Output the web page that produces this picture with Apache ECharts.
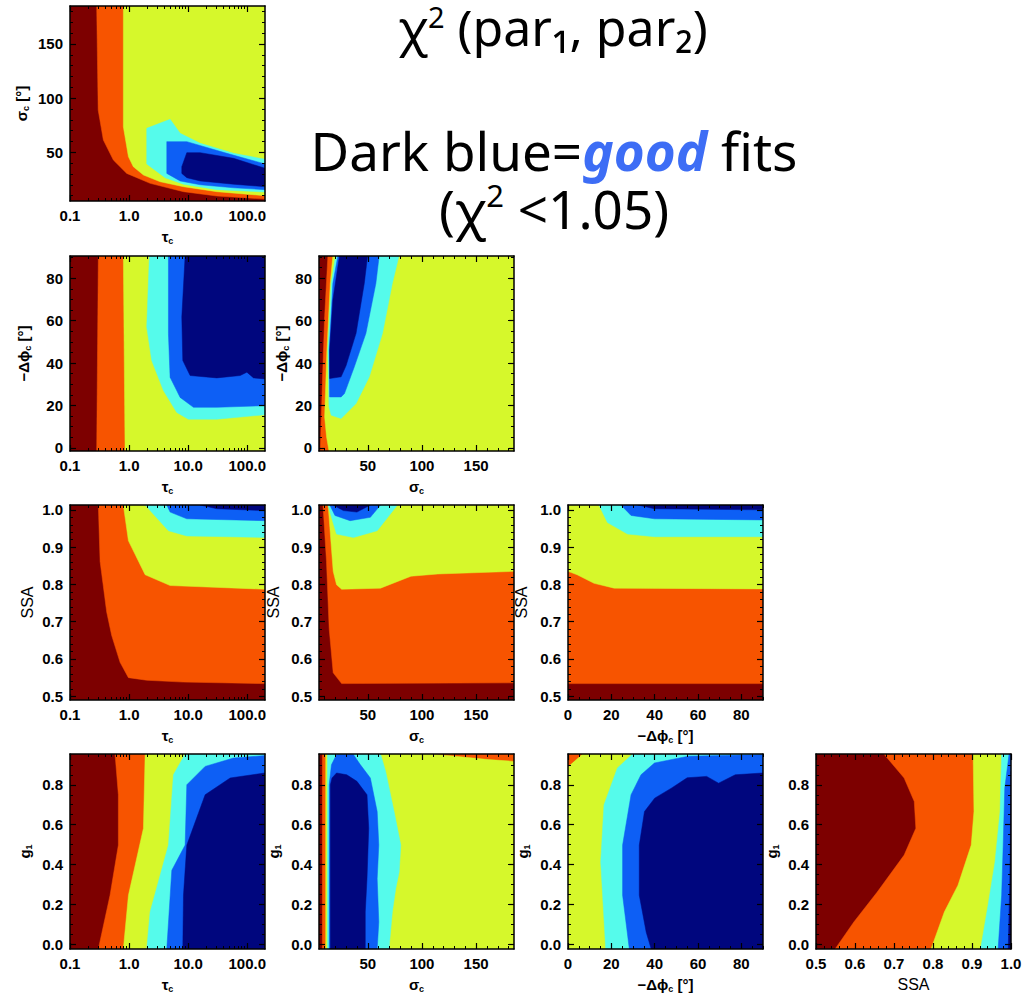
<!DOCTYPE html>
<html><head><meta charset="utf-8">
<script src="https://cdn.jsdelivr.net/npm/echarts@6/dist/echarts.min.js"></script>
<style>html,body{margin:0;padding:0;background:#fff}#c{width:1027px;height:1002px}</style>
</head><body><div id="c"></div>
<script>
// ---------- chi^2 colour levels (worst -> best) ----------
const levelColors = ['#7d0000', '#f75400', '#d6f82b', '#55fbeb', '#0d5ff5', '#00067e'];

// ---------- axis ranges & ticks ----------
const tauRange = [0.1, 200];
const tauTicks = [0.1, 1, 10, 100];
const tauMinor = [0.2,0.3,0.4,0.5,0.6,0.7,0.8,0.9,2,3,4,5,6,7,8,9,20,30,40,50,60,70,80,90];
const sigRange = [5, 185];
const sigTicks = [50, 100, 150];
const sigMinor = [10,20,30,40,60,70,80,90,110,120,130,140,160,170,180];
const dphiRangeX = [0, 90];
const dphiRangeY = [-1.5, 90.5];
const dphiTicks = [0, 20, 40, 60, 80];
const dphiMinor = [5,10,15,25,30,35,45,50,55,65,70,75,85,90];
const ssaRangeX = [0.5, 1.0];
const ssaRangeY = [0.49, 1.013];
const ssaTicks = [0.5, 0.6, 0.7, 0.8, 0.9, 1.0];
const ssaMinor = [0.52,0.54,0.56,0.58,0.62,0.64,0.66,0.68,0.72,0.74,0.76,0.78,0.82,0.84,0.86,0.88,0.92,0.94,0.96,0.98];
const g1Range = [-0.022, 0.954];
const g1Ticks = [0, 0.2, 0.4, 0.6, 0.8];
const g1Minor = [0.05,0.1,0.15,0.25,0.3,0.35,0.45,0.5,0.55,0.65,0.7,0.75,0.85,0.9];

// ---------- contour regions (data coordinates) ----------
// tau_c vs sigma_c
const A_orange = [[0.283,185],[0.30,89],[0.367,61.3],[0.542,42.8],[0.913,30.5],[2.27,21.3],[8.34,13.6],[30.6,9.6],[200,6.8],[200,185]];
const A_yellow = [[0.80,185],[0.80,73.6],[0.975,45.9],[1.18,36.7],[1.75,29],[3.35,22.8],[8.34,18.2],[30.6,13.6],[200,9.9],[200,185]];
const A_cyan   = [[1.99,72.1],[4.95,80.4],[7.32,67.5],[16,58.2],[58.7,49],[200,43.5],[200,13.3],[30.6,15.5],[8.34,20.5],[4.08,26.5],[1.99,39.2]];
const A_blue   = [[4.35,59.8],[9.49,59.8],[45.2,49],[200,39.2],[200,15.5],[58.7,17.2],[16,20],[7.32,23.5],[4.35,30.5]];
const A_navy   = [[9.49,49.6],[16,49.6],[58.7,44.4],[200,35.2],[200,18.2],[58.7,20.5],[16,23.5],[9.49,26.5],[7.81,30.5],[7.81,36.7]];
// tau_c vs -dphi_c
const B_orange = [[0.302,90.5],[0.283,-1.5],[200,-1.5],[200,90.5]];
const B_yellow = [[0.80,90.5],[0.855,-1.5],[200,-1.5],[200,90.5]];
const B_cyan   = [[2.21,90.5],[1.99,57],[2.42,41.2],[3.82,27],[6.42,16.7],[10.1,13.5],[30.6,13.5],[200,15.6],[200,90.5]];
const B_blue   = [[4.64,90.5],[4.64,53.8],[4.95,33.3],[7.32,23.8],[12.3,19.1],[30.6,19.1],[200,19.9],[200,90.5]];
const B_navy   = [[8.89,90.5],[7.81,61.7],[8.12,41.2],[10.8,34.1],[30.6,33],[76,34.1],[98.7,35.7],[128,33],[200,32.5],[200,90.5]];
// sigma_c vs -dphi_c
const C_orange = [[13.2,90.5],[10.2,61.8],[8.1,30.3],[6.2,-1.5],[185,-1.5],[185,90.5]];
const C_yellow = [[17.8,90.5],[15.4,77.6],[12.3,46.1],[10.2,14.6],[12,5.1],[14.2,-1.5],[185,-1.5],[185,90.5]];
const C_cyan   = [[20.3,90.5],[78.8,90.5],[72.7,77.6],[63.6,54],[51.4,33.5],[39.2,20.9],[25.4,13.8],[16.3,15.4],[14.2,19.3],[13.2,46.1],[16.3,77.6]];
const C_blue   = [[22.4,90.5],[60.5,90.5],[57.5,77.6],[48.3,54],[37.6,38.2],[28.5,25.6],[25.4,24],[14.8,24],[14.4,46.1],[17.8,77.6]];
const C_navy   = [[23.9,90.5],[49.8,90.5],[46.8,77.6],[39.2,54],[30,38.8],[25.4,33.5],[14.8,32.7],[14.8,46.1],[17.8,69.7],[22.4,85.5]];
// tau_c vs SSA
const D_orange = [[0.302,1.013],[0.323,0.862],[0.418,0.726],[0.508,0.663],[0.704,0.591],[0.975,0.550],[1.99,0.543],[8.34,0.538],[200,0.534],[200,1.013]];
const D_yellow = [[0.80,1.013],[0.975,0.917],[1.87,0.826],[4.95,0.797],[200,0.787],[200,1.013]];
const D_cyan   = [[1.87,1.013],[4.64,0.944],[9.49,0.930],[200,0.926],[200,1.013]];
const D_blue   = [[4.35,1.013],[4.95,0.994],[9.49,0.976],[200,0.971],[200,1.013]];
const D_navy   = [[16,1.013],[30.6,1.003],[200,0.998],[200,1.013]];
// sigma_c vs SSA
const E_orange = [[8.7,1.013],[11.9,0.862],[14.4,0.681],[18.1,0.563],[25.9,0.534],[185,0.536],[185,1.013]];
const E_yellow = [[13.4,1.013],[15,0.953],[18.1,0.835],[21.2,0.799],[25.9,0.787],[61.8,0.790],[89.9,0.822],[114.8,0.828],[185,0.835],[185,1.013]];
const E_cyan   = [[13.4,1.013],[16.5,0.980],[21.2,0.935],[36.8,0.926],[58.7,0.944],[77.4,1.013]];
const E_blue   = [[15,1.013],[19.7,0.985],[33.7,0.971],[52.4,0.980],[61.8,1.013]];
const E_navy   = [[18.1,1.013],[27.5,0.998],[40,0.994],[52.4,1.013]];
// -dphi_c vs SSA
const F_orange = [[0,0.534],[90,0.534],[90,1.013],[0,1.013]];
const F_yellow = [[0,0.835],[4.2,0.826],[12,0.803],[21.3,0.790],[90,0.788],[90,1.013],[0,1.013]];
const F_cyan   = [[14.3,1.013],[18.2,0.966],[27.5,0.935],[39.9,0.928],[90,0.928],[90,1.013]];
const F_blue   = [[24.4,1.013],[29.1,0.985],[39.9,0.976],[90,0.973],[90,1.013]];
const F_navy   = [[32.2,1.013],[39.9,1.003],[90,1.0],[90,1.013]];
// tau_c vs g1
const G_orange = [[0.579,0.954],[0.659,0.750],[0.659,0.498],[0.476,0.247],[0.302,-0.022],[200,-0.022],[200,0.954]];
const G_yellow = [[1.87,0.954],[1.75,0.582],[0.975,0.247],[0.80,-0.022],[200,-0.022],[200,0.954]];
const G_cyan   = [[8.89,0.954],[5.64,0.850],[4.64,0.498],[2.27,0.163],[1.99,-0.022],[200,-0.022],[200,0.954]];
const G_blue   = [[200,0.946],[58.7,0.934],[19.4,0.892],[9.49,0.80],[8.89,0.498],[5.29,0.372],[4.35,-0.022],[200,-0.022]];
const G_navy   = [[200,0.859],[51.5,0.834],[19.4,0.750],[9.49,0.498],[8.34,0.247],[8.12,-0.022],[200,-0.022]];
// sigma_c vs g1
const H_orange = [[8.1,-0.022],[8.1,0.954],[185,0.954],[185,-0.022]];
const H_yellow = [[11.2,-0.022],[11.2,0.954],[108.6,0.954],[130.4,0.943],[161.6,0.926],[185,0.917],[185,-0.022]];
const H_cyan   = [[12.8,-0.022],[12.8,0.954],[61.8,0.954],[66.5,0.867],[74.3,0.666],[80.5,0.498],[79,0.364],[75.8,0.280],[72.7,0.163],[69.6,-0.022]];
const H_blue   = [[14.4,-0.022],[14.4,0.80],[16.5,0.90],[21.2,0.951],[36.8,0.951],[43.1,0.901],[52.4,0.834],[58.7,0.666],[60.2,0.498],[58.7,0.330],[60.2,0.113],[58.7,-0.022]];
const H_navy   = [[15.5,-0.022],[15.5,0.80],[17,0.834],[21.2,0.859],[30.6,0.850],[40,0.817],[49.3,0.750],[50.9,0.582],[49.3,0.330],[47.7,0.163],[47.7,-0.022]];
// -dphi_c vs g1
const I_orange = [[0,0.954],[6.5,0.954],[2.6,0.917],[0,0.892]];
const I_cyan   = [[29.8,0.954],[22.8,0.884],[16.6,0.699],[15.1,0.414],[17.4,-0.022],[90,-0.022],[90,0.954]];
const I_blue   = [[90,0.951],[55.5,0.943],[39.9,0.909],[33.7,0.850],[29.1,0.750],[25.2,0.498],[25.2,0.247],[28.3,-0.022],[90,-0.022]];
const I_navy   = [[90,0.859],[77.2,0.850],[69.5,0.808],[64,0.842],[55,0.835],[47.7,0.783],[40,0.733],[35.3,0.666],[32.9,0.498],[32.9,0.247],[36.1,0.062],[38.4,-0.022],[90,-0.022]];
// SSA vs g1
const J_orange = [[0.674,0.954],[0.726,0.834],[0.752,0.716],[0.756,0.582],[0.726,0.448],[0.657,0.263],[0.597,0.113],[0.549,-0.022],[1,-0.022],[1,0.954]];
const J_yellow = [[0.903,0.954],[0.905,0.666],[0.898,0.498],[0.864,0.297],[0.829,0.163],[0.795,-0.022],[1,-0.022],[1,0.954]];
const J_cyan   = [[0.976,0.954],[0.972,0.666],[0.959,0.414],[0.941,0.196],[0.922,-0.022],[1,-0.022],[1,0.954]];
const J_blue   = [[0.995,0.954],[0.984,0.783],[0.980,0.498],[0.976,0.247],[0.967,-0.022],[1,-0.022],[1,0.954]];
const J_navy   = [[1,0.867],[0.997,0.330],[0.993,-0.022],[1,-0.022]];

// ---------- axis definitions ----------
const fmt1 = v => Number(v).toFixed(1);
const fmt0 = v => String(Math.round(v));
const AX = {
  tau:   {type:'log',   range:tauRange,   ticks:tauTicks,  minor:tauMinor,  fmt:fmt1, name:'{g|τ}{s|c}'},
  sig:   {type:'value', range:sigRange,   ticks:sigTicks,  minor:sigMinor,  fmt:fmt0, name:'{g|σ}{s|c}'},
  sigY:  {type:'value', range:sigRange,   ticks:sigTicks,  minor:sigMinor,  fmt:fmt0, name:'{g|σ}{s|c}{g| [°]}'},
  dphiX: {type:'value', range:dphiRangeX, ticks:dphiTicks, minor:dphiMinor, fmt:fmt0, name:'{g|−Δϕ}{s|c}{g| [°]}'},
  dphiY: {type:'value', range:dphiRangeY, ticks:dphiTicks, minor:dphiMinor, fmt:fmt0, name:'{g|−Δϕ}{s|c}{g| [°]}'},
  ssaX:  {type:'value', range:ssaRangeX,  ticks:ssaTicks,  minor:ssaMinor,  fmt:fmt1, name:'{n|SSA}'},
  ssaY:  {type:'value', range:ssaRangeY,  ticks:ssaTicks,  minor:ssaMinor,  fmt:fmt1, name:'{n|SSA}'},
  g1Y:   {type:'value', range:g1Range,    ticks:g1Ticks,   minor:g1Minor,   fmt:fmt1, name:'{g|g}{s|1}'}
};

const panels = [
  {col:0,row:0,x:'tau',  y:'sigY', base:0, yGap:40, layers:[[1,A_orange],[2,A_yellow],[3,A_cyan],[4,A_blue],[5,A_navy]]},
  {col:0,row:1,x:'tau',  y:'dphiY',base:0, yGap:38, layers:[[1,B_orange],[2,B_yellow],[3,B_cyan],[4,B_blue],[5,B_navy]]},
  {col:1,row:1,x:'sig',  y:'dphiY',base:0, yGap:29, layers:[[1,C_orange],[2,C_yellow],[3,C_cyan],[4,C_blue],[5,C_navy]]},
  {col:0,row:2,x:'tau',  y:'ssaY', base:0, yGap:35, layers:[[1,D_orange],[2,D_yellow],[3,D_cyan],[4,D_blue],[5,D_navy]]},
  {col:1,row:2,x:'sig',  y:'ssaY', base:0, yGap:38, layers:[[1,E_orange],[2,E_yellow],[3,E_cyan],[4,E_blue],[5,E_navy]]},
  {col:2,row:2,x:'dphiX',y:'ssaY', base:0, yGap:39, layers:[[1,F_orange],[2,F_yellow],[3,F_cyan],[4,F_blue],[5,F_navy]]},
  {col:0,row:3,x:'tau',  y:'g1Y',  base:0, yGap:37, layers:[[1,G_orange],[2,G_yellow],[3,G_cyan],[4,G_blue],[5,G_navy]]},
  {col:1,row:3,x:'sig',  y:'g1Y',  base:0, yGap:37, layers:[[1,H_orange],[2,H_yellow],[3,H_cyan],[4,H_blue],[5,H_navy]]},
  {col:2,row:3,x:'dphiX',y:'g1Y',  base:2, yGap:37, layers:[[1,I_orange],[3,I_cyan],[4,I_blue],[5,I_navy]]},
  {col:3,row:3,x:'ssaX', y:'g1Y',  base:0, yGap:36, layers:[[1,J_orange],[2,J_yellow],[3,J_cyan],[4,J_blue],[5,J_navy]]}
];

const colLeft = [70, 319, 568, 816];
const rowTop = [6, 256, 505, 754];
const W = 195, H = 195;
const FONT = "'Liberation Sans', 'DejaVu Sans', Arial, sans-serif";
const nameRich = {
  g: {fontFamily: FONT, fontSize: 15, fontWeight: 'bold', color: '#000'},
  s: {fontFamily: FONT, fontSize: 9, fontWeight: 'bold', color: '#000', padding: [8, 0, 0, 0]},
  n: {fontFamily: FONT, fontSize: 16, fontWeight: 'normal', color: '#000'}
};
const lineBlack = {color: '#000', width: 1.5};

const grids = [], xAxes = [], yAxes = [], series = [];

function makeAxes(ax, gi, isX, gap) {
  const common = {gridIndex: gi, type: ax.type, min: ax.range[0], max: ax.range[1], z: 10,
    splitLine: {show: false}, minorSplitLine: {show: false}, silent: true, axisPointer: {show: false}};
  if (ax.type === 'log') common.logBase = 10;
  const sideA = isX ? 'bottom' : 'left', sideB = isX ? 'top' : 'right';
  const main = Object.assign({}, common, {
    position: sideA,
    axisLine: {show: true, onZero: false, lineStyle: lineBlack},
    axisTick: {show: true, inside: true, length: 6, customValues: ax.ticks, lineStyle: {color: '#000', width: 1.2}},
    axisLabel: {show: true, customValues: ax.ticks, formatter: ax.fmt, margin: 7, color: '#000',
      fontFamily: FONT, fontSize: 15, fontWeight: 'bold'},
    name: ax.name, nameLocation: 'middle', nameGap: gap,
    nameTextStyle: {rich: nameRich, fontFamily: FONT, fontSize: 15, fontWeight: 'bold', color: '#000'}
  });
  if (!isX) main.nameRotate = 90;
  const opp = Object.assign({}, common, {
    position: sideB,
    axisLine: {show: true, onZero: false, lineStyle: lineBlack},
    axisTick: {show: true, inside: true, length: 6, customValues: ax.ticks, lineStyle: {color: '#000', width: 1.2}},
    axisLabel: {show: false}
  });
  const minA = Object.assign({}, common, {
    position: sideA,
    axisLine: {show: false, onZero: false},
    axisTick: {show: true, inside: true, length: 3, customValues: ax.minor, lineStyle: {color: '#000', width: 1}},
    axisLabel: {show: false}
  });
  const minB = Object.assign({}, minA, {position: sideB});
  return [main, opp, minA, minB];
}

function polygonItem(color) {
  return function (params, api) {
    if (params.dataIndexInside !== 0) return null;
    const pts = [];
    for (let i = 0; i < params.dataInsideLength; i++) {
      pts.push(api.coord([api.value(0, i), api.value(1, i)]));
    }
    return {type: 'polygon', shape: {points: pts}, style: {fill: color, stroke: color, lineWidth: 0.5}};
  };
}

panels.forEach((p, gi) => {
  grids.push({left: colLeft[p.col], top: rowTop[p.row], width: W, height: H, show: true,
    backgroundColor: levelColors[p.base], borderWidth: 0, containLabel: false});
  makeAxes(AX[p.x], gi, true, 27).forEach(a => xAxes.push(a));
  makeAxes(AX[p.y], gi, false, p.yGap).forEach(a => yAxes.push(a));
  p.layers.forEach(([lvl, poly]) => {
    series.push({
      type: 'custom', xAxisIndex: gi * 4, yAxisIndex: gi * 4, clip: true, silent: true,
      data: poly, renderItem: polygonItem(levelColors[lvl]), z: 2
    });
  });
});

const TFONT = "'Noto Sans', 'Open Sans', sans-serif";
const titleRich = (fs, lh) => ({
  main: {fontFamily: TFONT, fontSize: fs, lineHeight: lh, fill: '#000'},
  sup:  {fontFamily: TFONT, fontSize: Math.round(fs * 0.58), lineHeight: Math.round(fs * 0.58), fill: '#000', verticalAlign: 'top'},
  good: {fontFamily: TFONT, fontSize: fs, lineHeight: lh, fontWeight: 'bold', fontStyle: 'italic', fill: '#3d6df5'}
});

const chart = echarts.init(document.getElementById('c'), null, {renderer: 'svg'});
chart.setOption({
  backgroundColor: '#fff',
  animation: false,
  grid: grids,
  xAxis: xAxes,
  yAxis: yAxes,
  series: series,
  graphic: [
    {type: 'text', x: 553, y: 27, silent: true,
      style: {text: '{main|χ}{sup|2}{main| (par₁, par₂)}', rich: titleRich(50, 50),
        fill: '#000', align: 'center', verticalAlign: 'middle'}},
    {type: 'text', x: 554, y: 179, silent: true,
      style: {text: '{main|Dark blue=}{good|good}{main| fits}\n{main|(χ}{sup|2}{main| <1.05)}', rich: titleRich(53, 58),
        fill: '#000', align: 'center', verticalAlign: 'middle'}}
  ]
});
</script>
</body></html>
